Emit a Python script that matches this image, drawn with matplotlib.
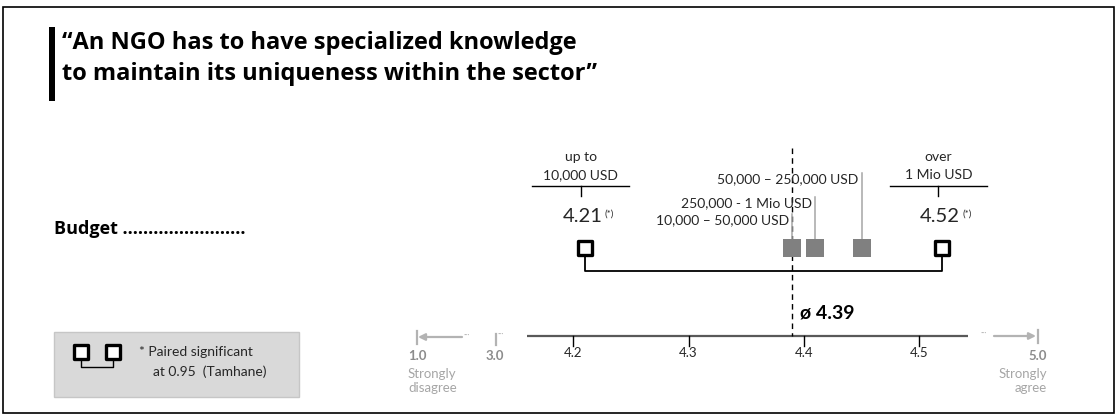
import matplotlib
matplotlib.use("Agg")
import matplotlib.pyplot as plt
from matplotlib.patches import Rectangle

plt.rcParams['font.family'] = ['Lato', 'DejaVu Sans']

# ---- data -------------------------------------------------------------
title_lines = ["\u201cAn NGO has to have specialized knowledge",
               "to maintain its uniqueness within the sector\u201d"]
row_label = "Budget \u2026\u2026\u2026\u2026\u2026\u2026\u2026\u2026"

group_labels = ["up to\n10,000 USD", "10,000 \u2013 50,000 USD",
                "50,000 \u2013 250,000 USD", "250,000 - 1 Mio USD",
                "over\n1 Mio USD"]
group_means = [4.21, 4.39, 4.45, 4.41, 4.52]
group_significant = [True, False, False, False, True]

overall_mean = 4.39
tick_values = [4.2, 4.3, 4.4, 4.5]
tick_labels = ["4.2", "4.3", "4.4", "4.5"]
scale_min_label, scale_break_label, scale_max_label = "1.0", "3.0", "5.0"
scale_min_text, scale_max_text = "Strongly\ndisagree", "Strongly\nagree"
legend_text = ["* Paired significant", "at 0.95  (Tamhane)"]

# ---- layout -----------------------------------------------------------
W, H = 1117, 416
x_origin_px, px_per_unit = 573.3, 1153.0   # pixel of 4.2, pixels per scale unit

fig = plt.figure(figsize=(W / 100, H / 100), dpi=100)
ov = fig.add_axes([0, 0, 1, 1])
ov.set_xlim(0, W)
ov.set_ylim(H, 0)
ov.axis('off')

ax = fig.add_axes([0, 0, 1, 1])
ax.set_xlim(4.2 - x_origin_px / px_per_unit, 4.2 + (W - x_origin_px) / px_per_unit)
ax.set_ylim(H, 0)
ax.axis('off')
ax.patch.set_alpha(0)

dark = "#262626"
grey_txt = "#a6a6a6"
grey_bold = "#8c8c8c"
grey_line = "#b3b3b3"
mark_grey = "#808080"
head_font = ['Open Sans', 'DejaVu Sans']

# frame
ov.add_patch(Rectangle((3, 7), 1111, 406, fill=False, ec="black", lw=1.2))

# title with side bar
ov.add_patch(Rectangle((49, 27), 6, 74, color="black", lw=0))
ov.text(62, 43, title_lines[0], fontsize=17, fontweight='bold', family=head_font,
        va='center', ha='left', color='black')
ov.text(62, 74, title_lines[1], fontsize=17, fontweight='bold', family=head_font,
        va='center', ha='left', color='black')

# row label
ov.text(54, 229, row_label, fontsize=13, fontweight='bold', family=head_font,
        va='center', ha='left', color='black')

# ---- scale axis ---------------------------------------------------------
axis_y = 335.5
lo = tick_values[0] - 0.04
hi = tick_values[-1] + 0.042
ax.plot([lo, hi], [axis_y, axis_y], color="#595959", lw=1.6, solid_capstyle='butt')
for v, lab in zip(tick_values, tick_labels):
    ax.plot([v, v], [axis_y, axis_y + 10], color="black", lw=1)
    ax.text(v, 353, lab, fontsize=9.5, ha='center', va='center', color=dark)

# left end of the full scale
ov.plot([417, 417], [331, 344], color=grey_line, lw=1.6)
ov.annotate("", xy=(418, 337), xytext=(462, 337),
            arrowprops=dict(arrowstyle='-|>', color=grey_line, lw=1.6,
                            mutation_scale=10, shrinkA=0, shrinkB=0))
ov.text(464, 335.5, "\u00b7\u00b7\u00b7", fontsize=6, color=grey_line, va='center', ha='left')
ov.plot([496, 496], [334, 345], color=grey_line, lw=1.6)
ov.text(498, 334.5, "\u00b7\u00b7\u00b7", fontsize=6, color=grey_line, va='center', ha='left')
ov.text(408, 356, scale_min_label, fontsize=9.5, fontweight='bold', color=grey_bold, va='center', ha='left')
ov.text(495, 356, scale_break_label, fontsize=9.5, fontweight='bold', color=grey_bold, va='center', ha='center')
ov.text(408, 381, scale_min_text, fontsize=9.5, color=grey_txt, va='center', ha='left', linespacing=1.25)

# right end of the full scale
ov.text(981, 333.5, "\u00b7\u00b7\u00b7", fontsize=6, color=grey_line, va='center', ha='left')
ov.annotate("", xy=(1036, 336), xytext=(994, 336),
            arrowprops=dict(arrowstyle='-|>', color=grey_line, lw=1.6,
                            mutation_scale=10, shrinkA=0, shrinkB=0))
ov.plot([1037.5, 1037.5], [330, 343], color=grey_line, lw=1.6)
ov.text(1047, 356, scale_max_label, fontsize=9.5, fontweight='bold', color=grey_bold, va='center', ha='right')
ov.text(1047, 381, scale_max_text, fontsize=9.5, color=grey_txt, va='center', ha='right',
        multialignment='right', linespacing=1.25)

# overall mean
ax.plot([overall_mean, overall_mean], [148, axis_y], color="black", lw=1,
        linestyle=(0, (4, 3)))
ax.text(overall_mean + 8 / px_per_unit, 313, f"\u00f8 {overall_mean:.2f}", fontsize=14,
        fontweight='bold', va='center', ha='left', color='black')

# ---- group marks --------------------------------------------------------
mark_y = 247.5
bracket_y = 271
sig = [(m, l) for m, l, s in zip(group_means, group_labels, group_significant) if s]
other = [(m, l) for m, l, s in zip(group_means, group_labels, group_significant) if not s]

# bracket joining the significantly different pair
ax.plot([sig[0][0], sig[0][0], sig[1][0], sig[1][0]],
        [mark_y + 8, bracket_y, bracket_y, mark_y + 8], color="black", lw=1.3, zorder=2)

ax.scatter([m for m, _ in sig], [mark_y] * len(sig), marker='s', s=108,
           facecolor='white', edgecolor='black', linewidths=2.4, zorder=3)
ax.scatter([m for m, _ in other], [mark_y] * len(other), marker='s', s=150,
           color=mark_grey, linewidths=0, zorder=3)

# labels for significant groups: header, underline, value
half_w = 48.5 / px_per_unit
for m, lab in sig:
    top, bottom = lab.split("\n")
    cx = m - 4 / px_per_unit
    ax.text(cx, 157, top, fontsize=10, ha='center', va='center', color=dark)
    ax.text(cx, 175, bottom, fontsize=10, ha='center', va='center', color=dark)
    ax.plot([cx - half_w, cx + half_w], [185.5, 185.5], color="black", lw=1)
    ax.plot([cx, cx], [185.5, 196], color="black", lw=1)
    num = ax.text(m - 2 / px_per_unit, 217, f"{m:.2f}", fontsize=14.5, ha='center',
                  va='center', color=dark)
    ax.annotate("(*)", xy=(1, 0.92), xycoords=num, xytext=(1.5, 0),
                textcoords='offset points', fontsize=7, ha='left', va='top', color=dark)

# labels for the remaining groups, with leader lines
label_y = {group_labels[1]: 220, group_labels[2]: 179, group_labels[3]: 203}
for m, lab in other:
    y = label_y[lab]
    ax.plot([m, m], [y - 6, mark_y - 8.5], color=grey_txt, lw=1.1, zorder=2)
    ax.text(m - 3 / px_per_unit, y, lab, fontsize=10, ha='right', va='center', color=dark)

# ---- legend box ---------------------------------------------------------
ov.add_patch(Rectangle((54, 332), 245, 65, facecolor="#d9d9d9", edgecolor="#c6c6c6", lw=1))
ov.plot([81, 81, 113, 113], [358, 367, 367, 358], color="black", lw=1)
ov.scatter([80.5, 112.5], [351.5, 351.5], marker='s', s=100, facecolor='white',
           edgecolor='black', linewidths=2.4, zorder=3)
ov.text(139, 352, legend_text[0], fontsize=10, ha='left', va='center', color=dark)
ov.text(153, 372, legend_text[1], fontsize=10, ha='left', va='center', color=dark)

fig.savefig("out.png", dpi=100)
